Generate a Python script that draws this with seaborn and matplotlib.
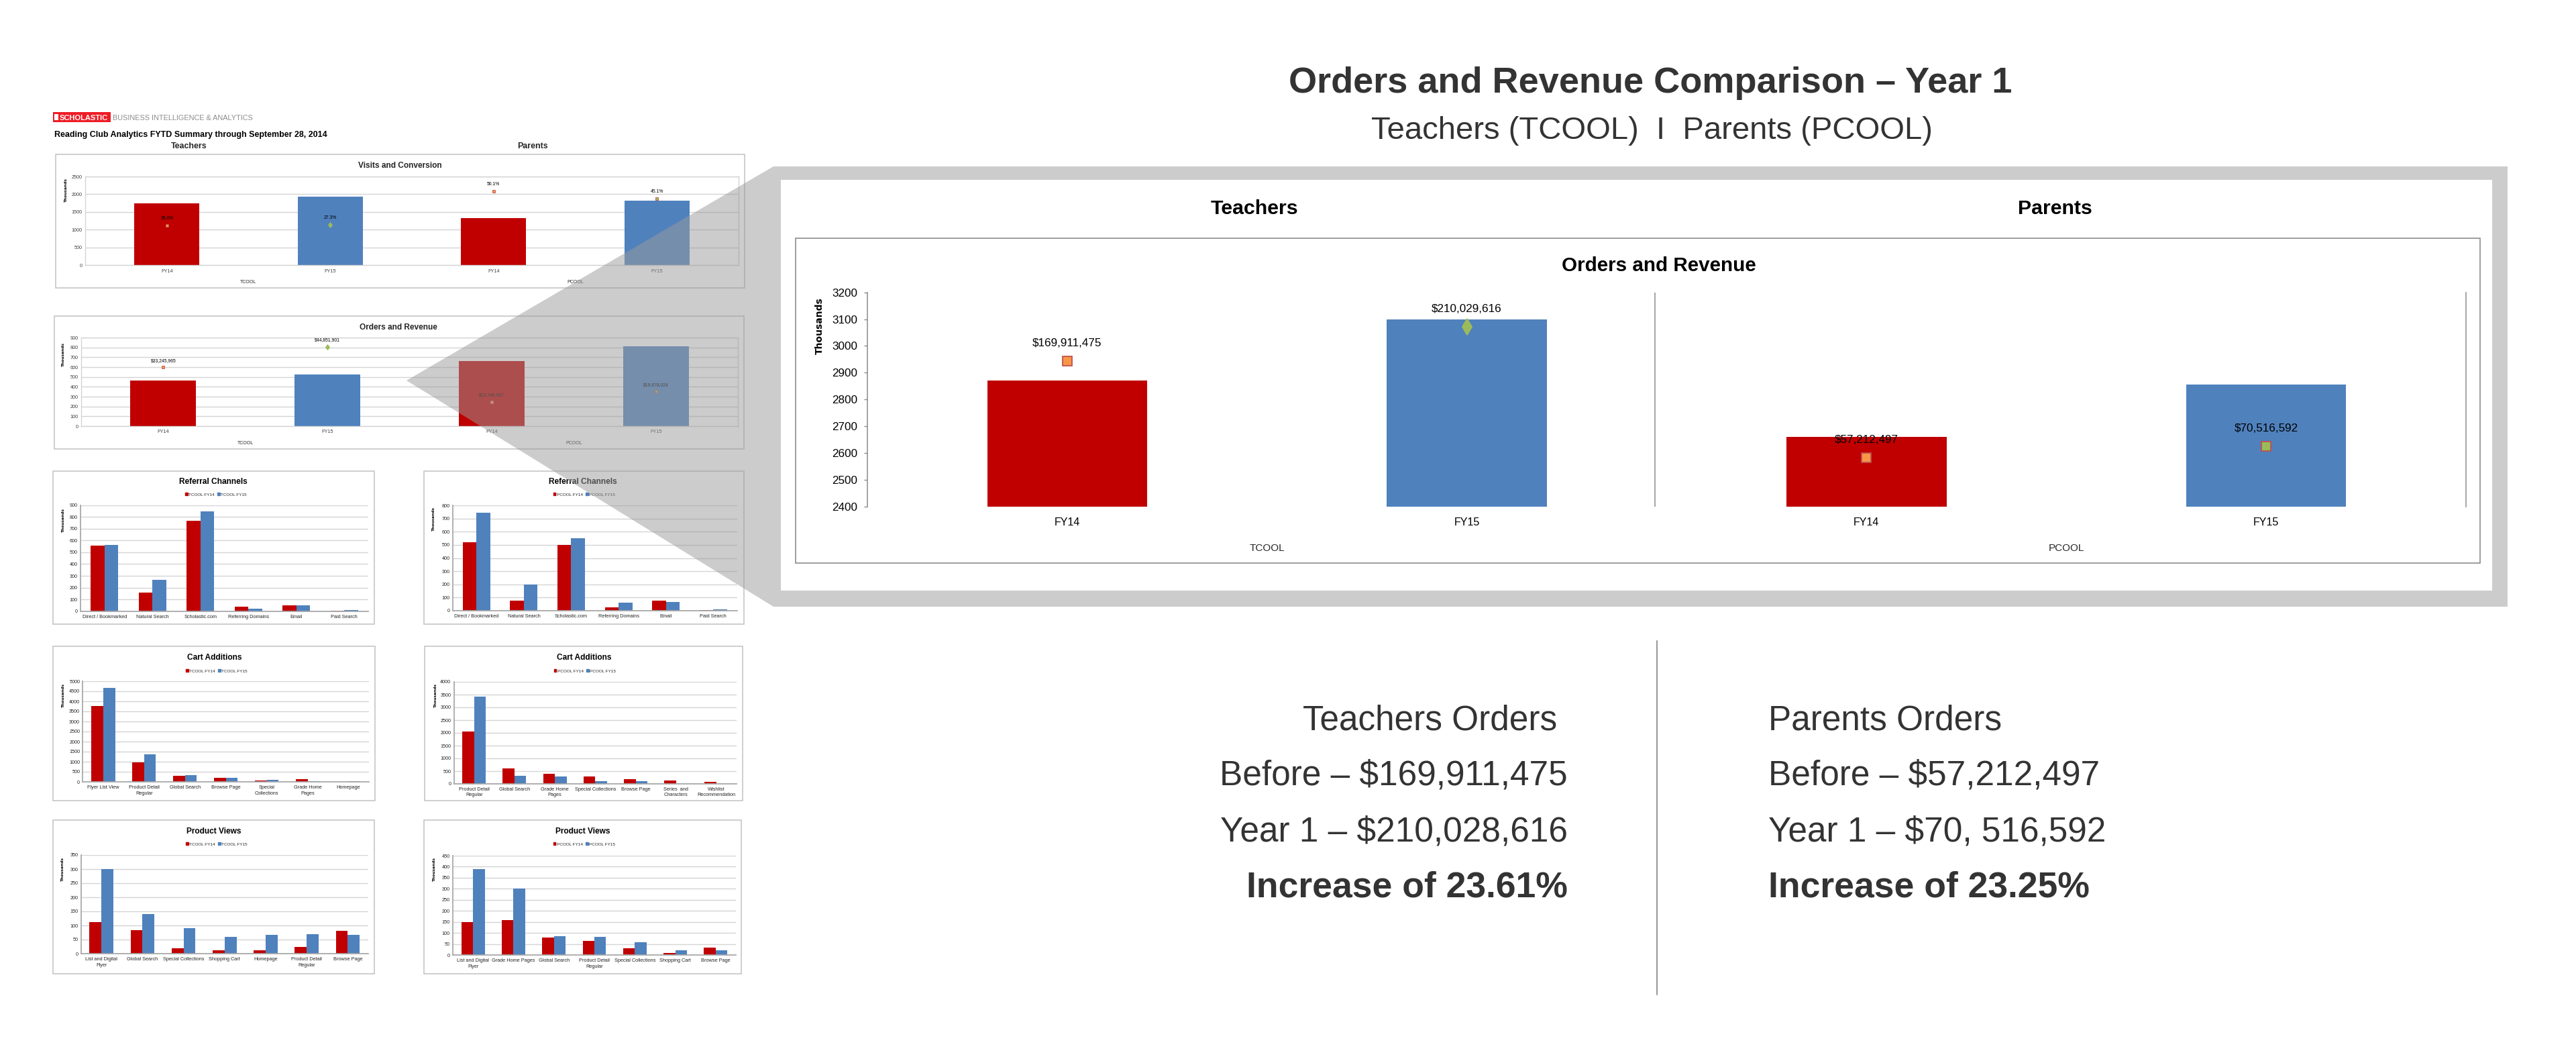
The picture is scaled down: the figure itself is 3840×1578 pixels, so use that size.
import matplotlib
matplotlib.use("Agg")
import numpy as np
import pandas as pd
import matplotlib.pyplot as plt
import seaborn as sns
from matplotlib.patches import Rectangle, Polygon
from matplotlib.transforms import blended_transform_factory

W, H = 3840, 1578

# ---------------- data ----------------
SEGMENTS = ["TCOOL", "TCOOL", "PCOOL", "PCOOL"]
YEARS = ["FY14", "FY15", "FY14", "FY15"]

# Visits and Conversion (dashboard thumbnail)
visits_k = [1740, 1930, 1330, 1815]
conversion_pct = [26.8, 27.3, 50.1, 45.1]

# Orders and Revenue (dashboard thumbnail)
orders_small_k = [467, 524, 661, 811]
revenue_small = [33245965, 44851901, 13746087, 19678024]

# Orders and Revenue (zoomed panel)
orders_big_k = [2870, 3100, 2660, 2855]
revenue_big = [169911475, 210029616, 57212497, 70516592]

# Referral Channels
referral_t_labels = ["Direct / Bookmarked", "Natural Search", "Scholastic.com",
                     "Referring Domains", "Email", "Paid Search"]
referral_t_fy14 = [555, 158, 765, 40, 50, 3]
referral_t_fy15 = [563, 265, 845, 22, 50, 12]
referral_p_labels = ["Direct / Bookmarked", "Natural Search", "Scholastic.com",
                     "Referring Domains", "Email", "Paid Search"]
referral_p_fy14 = [522, 75, 498, 28, 75, 5]
referral_p_fy15 = [742, 197, 550, 62, 65, 10]

# Cart Additions
cart_t_labels = ["Flyer List View", "Product Detail\nRegular", "Global Search", "Browse Page",
                 "Special\nCollections", "Grade Home\nPages", "Homepage"]
cart_t_fy14 = [3780, 970, 290, 200, 60, 130, 0]
cart_t_fy15 = [4670, 1360, 320, 190, 90, 40, 40]
cart_p_labels = ["Product Detail\nRegular", "Global Search", "Grade Home\nPages",
                 "Special Collections", "Browse Page", "Series  and\nCharacters",
                 "Wishlist\nRecommendation"]
cart_p_fy14 = [2040, 610, 400, 280, 190, 120, 80]
cart_p_fy15 = [3420, 320, 300, 95, 95, 0, 0]

# Product Views
views_t_labels = ["List and Digital\nFlyer", "Global Search", "Special Collections",
                  "Shopping Cart", "Homepage", "Product Detail\nRegular", "Browse Page"]
views_t_fy14 = [113, 83, 19, 12, 13, 24, 81]
views_t_fy15 = [299, 140, 90, 59, 66, 68, 67]
views_p_labels = ["List and Digital\nFlyer", "Grade Home Pages", "Global Search",
                  "Product Detail\nRegular", "Special Collections", "Shopping Cart",
                  "Browse Page"]
views_p_fy14 = [150, 159, 79, 65, 30, 9, 32]
views_p_fy15 = [389, 300, 86, 83, 59, 22, 21]

# Summary text
teacher_summary = ["Teachers Orders", "Before \u2013 $169,911,475",
                   "Year 1 \u2013 $210,028,616", "Increase of 23.61%"]
parent_summary = ["Parents Orders", "Before \u2013 $57,212,497",
                  "Year 1 \u2013 $70, 516,592", "Increase of 23.25%"]

# ---------------- styles ----------------
RED = "#C00000"
BLUE = "#4F81BD"
ORANGE = "#F79646"
GREEN = "#9BBB59"
MARK_EDGE = "#C0504D"
GRID = "#d4d4d4"
AXIS = "#a6a6a6"
TEXT = "#333333"
MARKERS = ["s", "d", "s", "s"]
MFC = [ORANGE, GREEN, ORANGE, GREEN]
MEC = [MARK_EDGE, GREEN, MARK_EDGE, MARK_EDGE]

sns.set_theme(style="white")
plt.rcParams["font.family"] = ["Liberation Sans", "DejaVu Sans"]

fig = plt.figure(figsize=(W / 100, H / 100), dpi=100)


def px_rect(x0, y0, x1, y1):
    return [x0 / W, 1 - y1 / H, (x1 - x0) / W, (y1 - y0) / H]


def pixel_axes(zorder):
    a = fig.add_axes([0, 0, 1, 1], zorder=zorder)
    a.set_xlim(0, W)
    a.set_ylim(H, 0)
    a.set_axis_off()
    a.patch.set_alpha(0)
    return a


bg = pixel_axes(0)


# ---------------- helpers ----------------
def segment_bars(ax, values, ymin, ymax, step):
    df = pd.DataFrame({"slot": [f"{s} {y}" for s, y in zip(SEGMENTS, YEARS)],
                       "value": values, "year": YEARS})
    sns.barplot(data=df, x="slot", y="value", hue="year",
                palette={"FY14": RED, "FY15": BLUE}, dodge=False, width=0.4,
                saturation=1, legend=False, linewidth=0, ax=ax)
    ax.set_xlim(-0.5, 3.5)
    ax.set_ylim(ymin, ymax)
    ax.set_yticks(range(ymin, ymax + 1, step))
    ax.set_xticks(range(4), YEARS)
    ax.set_xlabel("")
    ax.set_ylabel("")


def segment_marks(ax, values, vmax, labels, ms, fs, offset, mew):
    ax2 = ax.twinx()
    ax2.set_zorder(ax.get_zorder() + 0.5)
    ax2.set_ylim(0, vmax)
    ax2.set_axis_off()
    for i, v in enumerate(values):
        size = ms * 1.25 if MARKERS[i] == "d" else ms
        ax2.plot(i, v, marker=MARKERS[i], ms=size, mfc=MFC[i], mec=MEC[i],
                 mew=mew, ls="none")
        ax2.annotate(labels[i], (i, v), xytext=(0, offset), textcoords="offset points",
                     ha="center", va="center", fontsize=fs, color="black")
    return ax2


def segment_names(ax, y_axes, fs):
    tr = blended_transform_factory(ax.transData, ax.transAxes)
    ax.text(0.5, y_axes, "TCOOL", transform=tr, ha="center", va="center", fontsize=fs)
    ax.text(2.5, y_axes, "PCOOL", transform=tr, ha="center", va="center", fontsize=fs)


def box(x0, y0, x1, y1):
    bg.add_patch(Rectangle((x0, y0), x1 - x0, y1 - y0, fill=False, ec="#c6c6c6", lw=1.2))


def thousands(layer, x, top, fs):
    layer.text(x, top, "Thousands", rotation=90, ha="center", va="top", fontsize=fs,
               fontweight="bold", family="DejaVu Sans", color="black")


def small_thumb_style(ax, xpad):
    ax.grid(axis="y", color=GRID, lw=1)
    ax.set_axisbelow(True)
    for s in ax.spines.values():
        s.set_color(GRID)
        s.set_linewidth(1)
    ax.tick_params(axis="both", length=0, labelsize=5.2, colors="#404040")
    ax.tick_params(axis="x", pad=xpad)
    ax.tick_params(axis="y", pad=3)


def channel_chart(plot_px, labels, fy14, fy15, seg, ymax, step, title, title_x, title_y,
                  legend_xy, thou_xy):
    ax = fig.add_axes(px_rect(*plot_px), zorder=1)
    n = len(labels)
    df = pd.DataFrame({"channel": labels * 2, "value": fy14 + fy15,
                       "series": [f"{seg} FY14"] * n + [f"{seg} FY15"] * n})
    sns.barplot(data=df, x="channel", y="value", hue="series", palette=[RED, BLUE],
                width=0.58, saturation=1, linewidth=0, legend=False, ax=ax)
    ax.set_xlim(-0.5, n - 0.5)
    ax.set_ylim(0, ymax)
    ax.set_yticks(range(0, ymax + 1, step))
    ax.set_xticks(range(n), labels)
    ax.set_xticks(np.arange(-0.5, n), minor=True)
    ax.set_xlabel("")
    ax.set_ylabel("")
    ax.grid(axis="y", color=GRID, lw=1)
    ax.set_axisbelow(True)
    ax.spines["top"].set_visible(False)
    ax.spines["right"].set_visible(False)
    ax.spines["left"].set_color(AXIS)
    ax.spines["bottom"].set_color(AXIS)
    ax.tick_params(axis="x", which="major", length=0, labelsize=5.3, pad=3.6,
                   colors="#262626")
    ax.tick_params(axis="x", which="minor", length=3.5, width=0.8, color=AXIS)
    ax.tick_params(axis="y", length=0, labelsize=5.2, pad=3, colors="#262626")
    for t in ax.get_xticklabels():
        t.set_linespacing(1.3)
    handles = [Rectangle((0, 0), 1, 1, color=RED), Rectangle((0, 0), 1, 1, color=BLUE)]
    ax.legend(handles, [f"{seg} FY14", f"{seg} FY15"], loc="center",
              bbox_to_anchor=(legend_xy[0] / W, 1 - legend_xy[1] / H),
              bbox_transform=fig.transFigure, ncol=2, frameon=False, fontsize=4.6,
              handlelength=0.55, handleheight=0.55, handletextpad=0.25,
              columnspacing=0.7, borderpad=0)
    bg.text(title_x, title_y, title, ha="center", va="baseline", fontsize=8.6,
            fontweight="bold", color="black")
    thousands(bg, thou_xy[0], thou_xy[1], 4.2)
    return ax


# ---------------- dashboard header ----------------
bg.add_patch(Rectangle((78.6, 166.7), 86, 15.3, color="#EE1C25", lw=0))
bg.add_patch(Rectangle((81, 170), 5.5, 8.5, color="white", lw=0))
bg.text(88.5, 178.7, "SCHOLASTIC", color="white", fontsize=8.0, fontweight="bold",
        va="baseline")
bg.text(168, 178.7, "BUSINESS INTELLIGENCE & ANALYTICS", color="#8c8c8c", fontsize=7.8,
        va="baseline")
bg.text(80.7, 204.3, "Reading Club Analytics FYTD Summary through September 28, 2014",
        fontsize=9.0, fontweight="bold", color="black", va="baseline")
bg.text(282, 220.7, "Teachers", fontsize=8.9, fontweight="bold", ha="center", va="baseline")
bg.text(794, 220.7, "Parents", fontsize=8.9, fontweight="bold", ha="center", va="baseline")

# ---------------- Visits and Conversion thumbnail ----------------
box(82.7, 230, 1110, 429)
bg.text(596, 250, "Visits and Conversion", ha="center", va="baseline", fontsize=8.6,
        fontweight="bold")
ax_v = fig.add_axes(px_rect(127, 263, 1101, 395), zorder=1)
segment_bars(ax_v, visits_k, 0, 2500, 500)
small_thumb_style(ax_v, 4.3)
segment_names(ax_v, -0.19, 5)
segment_marks(ax_v, conversion_pct, 60, [f"{v}%" for v in conversion_pct], 3.5, 4.9, 7.7, 0.6)
thousands(bg, 98, 265, 4.2)

# ---------------- Orders and Revenue thumbnail ----------------
box(80.7, 471, 1109, 669)
bg.text(594, 490.7, "Orders and Revenue", ha="center", va="baseline", fontsize=8.6,
        fontweight="bold")
ax_o = fig.add_axes(px_rect(121, 503, 1100, 635), zorder=1)
segment_bars(ax_o, orders_small_k, 0, 900, 100)
small_thumb_style(ax_o, 3.6)
segment_names(ax_o, -0.195, 5)
segment_marks(ax_o, revenue_small, 50e6, [f"${v:,.0f}" for v in revenue_small], 3.5, 4.9,
              7.2, 0.6)
thousands(bg, 94.4, 510, 4.2)

# ---------------- channel thumbnails ----------------
box(79, 701.7, 558, 930)
box(631.6, 701.7, 1109, 930)
channel_chart((120, 752.7, 549, 910.7), referral_t_labels, referral_t_fy14, referral_t_fy15,
              "TCOOL", 900, 100, "Referral Channels", 318, 720.7, (322, 737), (94.4, 757))
channel_chart((675, 753, 1098.6, 910), referral_p_labels, referral_p_fy14, referral_p_fy15,
              "PCOOL", 800, 100, "Referral Channels", 869, 720.7, (871, 737), (646.8, 755))

box(79, 963, 559, 1193)
box(633, 963, 1107, 1193)
channel_chart((123.4, 1015, 550, 1165), cart_t_labels, cart_t_fy14, cart_t_fy15,
              "TCOOL", 5000, 500, "Cart Additions", 319.6, 983.3, (323, 1000), (94.4, 1018))
channel_chart((676.6, 1016, 1098, 1168), cart_p_labels, cart_p_fy14, cart_p_fy15,
              "PCOOL", 4000, 500, "Cart Additions", 870.6, 983.3, (872, 1000), (649, 1018))

box(78.6, 1222, 558, 1451)
box(631.6, 1222, 1105, 1451)
channel_chart((120.6, 1274, 549, 1421), views_t_labels, views_t_fy14, views_t_fy15,
              "TCOOL", 350, 50, "Product Views", 319, 1242, (323, 1258), (93, 1277))
channel_chart((675, 1275, 1097, 1423), views_p_labels, views_p_fy14, views_p_fy15,
              "PCOOL", 450, 50, "Product Views", 869, 1242, (871, 1258), (647.5, 1277))

# ---------------- zoom overlay and panel ----------------
ov = pixel_axes(2)
ov.add_patch(Polygon([(606, 567), (1153, 248), (3738, 248), (3738, 904), (1153, 904)],
                     closed=True, color="#9b9b9b", alpha=0.51, lw=0))
ov.add_patch(Rectangle((1164, 268.3), 3715 - 1164, 880 - 268.3, color="white", lw=0))
ov.add_patch(Rectangle((1185.5, 355), 3697 - 1185.5, 839 - 355, fill=False,
                       ec="#8c8c8c", lw=1.2))
ov.text(1870, 319.4, "Teachers", ha="center", va="baseline", fontsize=21.8,
        fontweight="bold", color="black")
ov.text(3063, 319.4, "Parents", ha="center", va="baseline", fontsize=21.8,
        fontweight="bold", color="black")
ov.text(2473, 404, "Orders and Revenue", ha="center", va="baseline", fontsize=21.3,
        fontweight="bold", color="black")
thousands(ov, 1221.6, 443, 10)

ax_b = fig.add_axes(px_rect(1293, 435.6, 3676, 755), zorder=3)
ax_b.patch.set_alpha(0)
segment_bars(ax_b, orders_big_k, 2400, 3200, 100)
for s in ["top", "bottom"]:
    ax_b.spines[s].set_visible(False)
for s in ["left", "right"]:
    ax_b.spines[s].set_color("#8c8c8c")
    ax_b.spines[s].set_linewidth(1.1)
ax_b.axvline(1.47, color="#8c8c8c", lw=1.1)
ax_b.tick_params(axis="y", direction="out", length=3.6, width=1, color="#8c8c8c",
                 labelsize=12.3, pad=7.2, colors="black", left=True)
ax_b.tick_params(axis="y", colors="#8c8c8c", labelcolor="black")
ax_b.tick_params(axis="x", length=0, labelsize=11.5, pad=11.4, labelcolor="black")
segment_names(ax_b, -0.194, 11)
segment_marks(ax_b, revenue_big, 250e6, [f"${v:,.0f}" for v in revenue_big], 9.4, 12.3,
              19, 1.3)

# ---------------- headline and summary ----------------
bg.text(2460, 138.3, "Orders and Revenue Comparison \u2013 Year 1", ha="center",
        va="baseline", fontsize=39, fontweight="bold", color=TEXT)
bg.text(2462, 206.7, "Teachers (TCOOL)  I  Parents (PCOOL)", ha="center", va="baseline",
        fontsize=34, color=TEXT)

baselines = [1087, 1170, 1253.3, 1336.7]
for i, (t_line, p_line) in enumerate(zip(teacher_summary, parent_summary)):
    weight = "bold" if i == 3 else "normal"
    size = 38.5 if i == 3 else 37
    tx = 2321 if i == 0 else 2337
    bg.text(tx, baselines[i], t_line, ha="right", va="baseline", fontsize=size,
            fontweight=weight, color=TEXT)
    bg.text(2636, baselines[i], p_line, ha="left", va="baseline", fontsize=size,
            fontweight=weight, color=TEXT)
bg.plot([2470, 2470], [955, 1482], color="#9a9a9a", lw=1.5)

fig.savefig("out.png", dpi=100)
